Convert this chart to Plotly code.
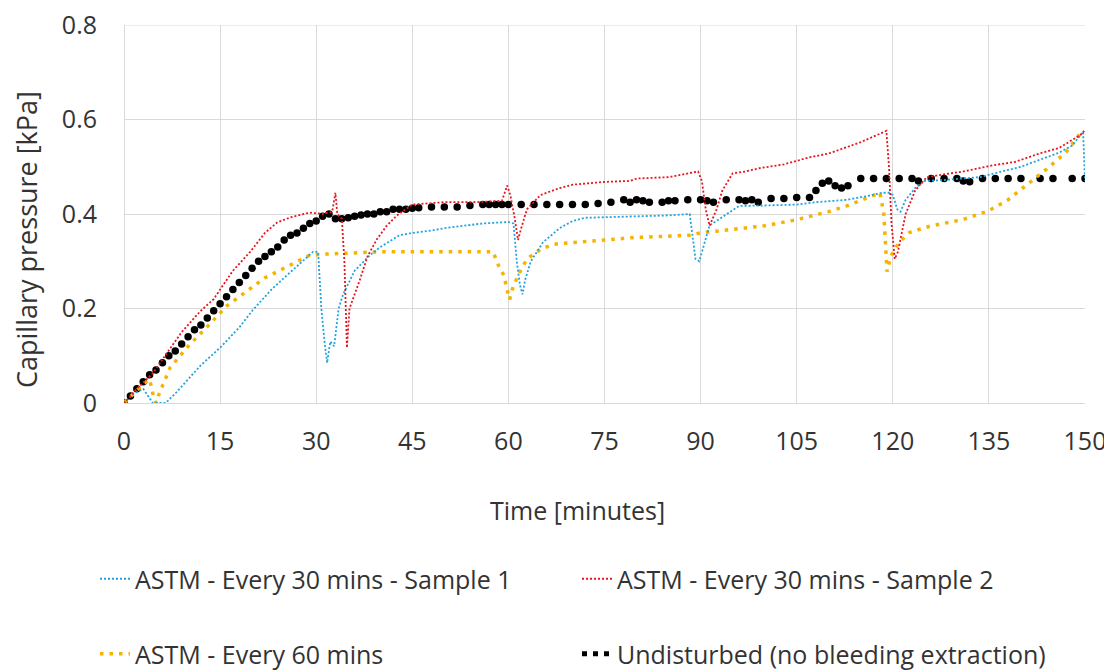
import plotly.graph_objects as go

# ---------------- data ----------------
blue_t = [0, 1.5, 3, 4, 4.5, 6.5, 8, 10, 12, 15, 18, 20, 23, 25, 27, 29.5, 30.3, 30.8, 31.3, 31.7,
          32.2, 32.8, 33.5, 34.2, 36, 38.4, 40, 43, 45, 48, 50, 53, 56, 60, 60.8, 61.3, 61.8, 62.2,
          62.6, 63.5, 65.4, 68, 70, 72, 75, 80, 85, 88.3, 88.8, 89.2, 89.8, 90.4, 91.4, 93, 96, 100,
          105, 108, 112.8, 116, 118.4, 119.5, 120, 120.7, 121.2, 122, 123.5, 125, 128, 133.5, 137,
          140, 143, 146, 148, 149.7, 150]
blue_p = [0, 0.02, 0.03, 0.01, 0.0, 0.0, 0.02, 0.05, 0.08, 0.117, 0.16, 0.195, 0.24, 0.265, 0.29,
          0.32, 0.32, 0.2, 0.13, 0.085, 0.13, 0.12, 0.2, 0.23, 0.28, 0.313, 0.33, 0.355, 0.36, 0.365,
          0.37, 0.375, 0.38, 0.383, 0.38, 0.30, 0.25, 0.23, 0.26, 0.30, 0.34, 0.37, 0.385, 0.392,
          0.393, 0.395, 0.397, 0.40, 0.35, 0.305, 0.30, 0.33, 0.376, 0.39, 0.417, 0.418, 0.42, 0.425,
          0.43, 0.438, 0.445, 0.445, 0.44, 0.41, 0.405, 0.43, 0.455, 0.47, 0.472, 0.478, 0.49, 0.50,
          0.515, 0.53, 0.545, 0.574, 0.47]

red_t = [0, 2, 4.5, 7, 9, 11.9, 14, 17, 19.7, 22, 23.9, 26, 29, 31, 32.5, 33, 33.3, 34, 34.4, 34.8,
         35.2, 36, 36.8, 38, 39.5, 41, 42.6, 45, 50, 55, 59, 59.8, 60.3, 61, 61.5, 62, 62.9, 65, 68,
         70, 75, 79, 80, 85, 88, 89.6, 90.2, 90.8, 91.4, 92.5, 93.4, 95, 97, 99.2, 103, 107, 110,
         115, 119, 119.4, 119.8, 120.3, 120.8, 122, 123.5, 125.3, 128, 131, 135.6, 139, 142.9, 146,
         149.6, 150]
red_p = [0, 0.03, 0.063, 0.11, 0.15, 0.194, 0.22, 0.28, 0.32, 0.36, 0.382, 0.393, 0.403, 0.40,
         0.405, 0.445, 0.40, 0.39, 0.30, 0.117, 0.2, 0.23, 0.26, 0.31, 0.347, 0.375, 0.397, 0.42,
         0.425, 0.425, 0.428, 0.46, 0.44, 0.39, 0.345, 0.37, 0.41, 0.44, 0.455, 0.462, 0.468, 0.47,
         0.475, 0.478, 0.485, 0.49, 0.47, 0.41, 0.375, 0.41, 0.45, 0.486, 0.49, 0.497, 0.505, 0.52,
         0.528, 0.552, 0.576, 0.50, 0.38, 0.305, 0.32, 0.40, 0.45, 0.478, 0.484, 0.49, 0.503, 0.51,
         0.528, 0.54, 0.57, 0.58]

yellow_t = [0, 1.5, 3, 4, 4.5, 5, 5.5, 7.2, 10, 13.4, 16, 19.7, 22, 24.8, 27, 29, 31, 35, 40, 45,
            50, 55, 57.6, 58.5, 59.3, 59.8, 60.2, 60.6, 61.5, 62.9, 65, 67, 70, 75, 79.4, 85, 88.3,
            90, 94.5, 100, 105, 110, 112.8, 116, 118, 118.6, 118.9, 119.1, 119.5, 120, 121, 122.6,
            126, 130.9, 135, 138, 141.3, 144, 147, 149.6]
yellow_p = [0, 0.02, 0.04, 0.05, 0.02, 0.0, 0.02, 0.075, 0.12, 0.167, 0.205, 0.242, 0.265, 0.284,
            0.30, 0.313, 0.315, 0.318, 0.32, 0.32, 0.32, 0.32, 0.32, 0.29, 0.27, 0.24, 0.219, 0.24,
            0.27, 0.305, 0.325, 0.336, 0.34, 0.345, 0.35, 0.352, 0.355, 0.36, 0.367, 0.375, 0.388,
            0.405, 0.417, 0.435, 0.445, 0.40, 0.32, 0.278, 0.30, 0.32, 0.34, 0.361, 0.375, 0.388,
            0.407, 0.43, 0.466, 0.495, 0.53, 0.576]

black_t = [0, 1, 2, 3, 4, 5, 6, 7, 8, 9, 10, 11, 12, 13, 14, 15, 16, 17, 18, 19, 20, 21, 22, 23,
           24, 25, 26, 27, 28, 29, 30, 31, 32, 33, 34, 35, 36, 37, 38, 39, 40, 41, 42, 43, 44, 45,
           46, 48, 50, 52, 54, 56, 57, 58, 59, 60, 62, 64, 66, 68, 70, 72, 74, 76, 78, 79, 80, 81,
           82, 84, 85, 86, 88, 90, 91, 92, 94, 96, 97, 98, 99, 101, 103, 105, 107, 108, 109, 110,
           111, 112, 113, 115, 117, 119, 121, 123, 124, 126, 128, 130, 131, 132, 134, 136, 138, 140,
           143, 145, 148, 150]
black_p = [0, 0.015, 0.03, 0.045, 0.06, 0.07, 0.085, 0.1, 0.11, 0.125, 0.14, 0.155, 0.165, 0.18,
           0.195, 0.21, 0.225, 0.24, 0.255, 0.27, 0.285, 0.3, 0.31, 0.32, 0.33, 0.345, 0.355, 0.36,
           0.37, 0.38, 0.385, 0.395, 0.4, 0.39, 0.39, 0.392, 0.395, 0.398, 0.40, 0.40, 0.405, 0.405,
           0.41, 0.41, 0.41, 0.412, 0.413, 0.415, 0.415, 0.415, 0.418, 0.42, 0.42, 0.42, 0.42, 0.42,
           0.42, 0.42, 0.42, 0.42, 0.42, 0.42, 0.422, 0.425, 0.43, 0.425, 0.43, 0.428, 0.425, 0.425,
           0.428, 0.428, 0.43, 0.43, 0.428, 0.425, 0.43, 0.43, 0.428, 0.43, 0.425, 0.433, 0.433,
           0.435, 0.435, 0.45, 0.465, 0.47, 0.46, 0.455, 0.46, 0.475, 0.475, 0.475, 0.475, 0.475,
           0.47, 0.475, 0.475, 0.475, 0.47, 0.468, 0.475, 0.475, 0.475, 0.475, 0.475, 0.475, 0.475,
           0.475]

x_ticks = [0, 15, 30, 45, 60, 75, 90, 105, 120, 135, 150]
y_ticks = [0, 0.2, 0.4, 0.6, 0.8]
y_tick_labels = ["0", "0.2", "0.4", "0.6", "0.8"]

names = ["ASTM - Every 30 mins - Sample 1", "ASTM - Every 30 mins - Sample 2",
         "ASTM - Every 60 mins", "Undisturbed (no bleeding extraction)"]

# ---------------- styles ----------------
BLUE = "#1fa4e0"
RED = "#e8141f"
GOLD = "#f5b400"
FONT = "Open Sans"
TXT = "#333333"
GRID = "#d9d9d9"
FS = 25

fig = go.Figure()

fig.add_trace(go.Scatter(x=black_t, y=black_p, mode="markers", showlegend=False,
                         marker=dict(color="black", size=7.5)))
fig.add_trace(go.Scatter(x=yellow_t, y=yellow_p, mode="lines", name=names[2], legend="legend2",
                         line=dict(color=GOLD, width=3.5, dash="3.5px,6px")))
fig.add_trace(go.Scatter(x=blue_t, y=blue_p, mode="lines", name=names[0], legend="legend",
                         line=dict(color=BLUE, width=1.8, dash="2px,2px")))
fig.add_trace(go.Scatter(x=red_t, y=red_p, mode="lines", name=names[1], legend="legend",
                         line=dict(color=RED, width=1.8, dash="2px,2px")))
# legend-only entry for the undisturbed series (three dots)
fig.add_trace(go.Scatter(x=[None], y=[None], mode="lines", name=names[3], legend="legend2",
                         line=dict(color="black", width=5, dash="5px,6px")))

W, H = 1112, 672
OFF = 8  # page offset of the figure in the browser window
PLOT_TOP, PLOT_BOTTOM = 25, 403   # screen pixels
PLOT_LEFT, PLOT_RIGHT = 124, 1085
L, T = PLOT_LEFT - OFF, PLOT_TOP - OFF
pw, ph = PLOT_RIGHT - PLOT_LEFT, PLOT_BOTTOM - PLOT_TOP
R, B = W - L - pw, H - T - ph


def px_x(xs):
    # screen x -> paper fraction
    return (xs - OFF - L) / pw


def px_y(ys):
    # screen y -> paper fraction
    return (H - B - (ys - OFF)) / ph


legend_common = dict(orientation="h", xanchor="left", yanchor="middle",
                     xref="container", yref="container",
                     font=dict(family=FONT, size=FS, color=TXT),
                     entrywidth=437, entrywidthmode="pixels", bgcolor="rgba(0,0,0,0)",
                     traceorder="normal", itemwidth=30)

fig.update_layout(
    width=W, height=H,
    margin=dict(l=L, r=R, t=T, b=B, autoexpand=False),
    paper_bgcolor="white", plot_bgcolor="white",
    font=dict(family=FONT, size=FS, color=TXT),
    legend=dict(x=87 / W, y=1 - 571 / H, **legend_common),
    legend2=dict(x=87 / W, y=1 - 646 / H, **legend_common),
    xaxis=dict(range=[0, 150], tickvals=x_ticks, showgrid=True, gridcolor=GRID, gridwidth=1,
               zeroline=True, zerolinecolor=GRID, zerolinewidth=1, showline=False,
               automargin=False, ticklabeloverflow="allow",
               ticks="", ticklabelstandoff=21, tickfont=dict(family=FONT, size=FS, color=TXT)),
    yaxis=dict(range=[0, 0.8], tickvals=y_ticks, ticktext=y_tick_labels, showgrid=True,
               gridcolor=GRID, gridwidth=1, zeroline=True, zerolinecolor=GRID, zerolinewidth=1,
               showline=False, ticks="", ticklabelstandoff=26, automargin=False,
               ticklabeloverflow="allow",
               tickfont=dict(family=FONT, size=FS, color=TXT)),
    shapes=[
        # top border of the plotting area, drawn at the 0.8 gridline
        dict(type="line", xref="paper", yref="y", x0=0, x1=1, y0=0.8, y1=0.8,
             line=dict(color=GRID, width=1), layer="below"),
    ],
    annotations=[
        dict(text="Time [minutes]", xref="paper", yref="paper", x=px_x(577), y=px_y(510),
             xanchor="center", yanchor="middle", showarrow=False,
             font=dict(family=FONT, size=FS, color=TXT)),
        dict(text="Capillary pressure [kPa]", xref="paper", yref="paper", x=px_x(26),
             y=px_y(240), xanchor="center", yanchor="middle", showarrow=False, textangle=-90,
             font=dict(family=FONT, size=27, color=TXT)),
    ],
)

fig.write_html("out.html")
